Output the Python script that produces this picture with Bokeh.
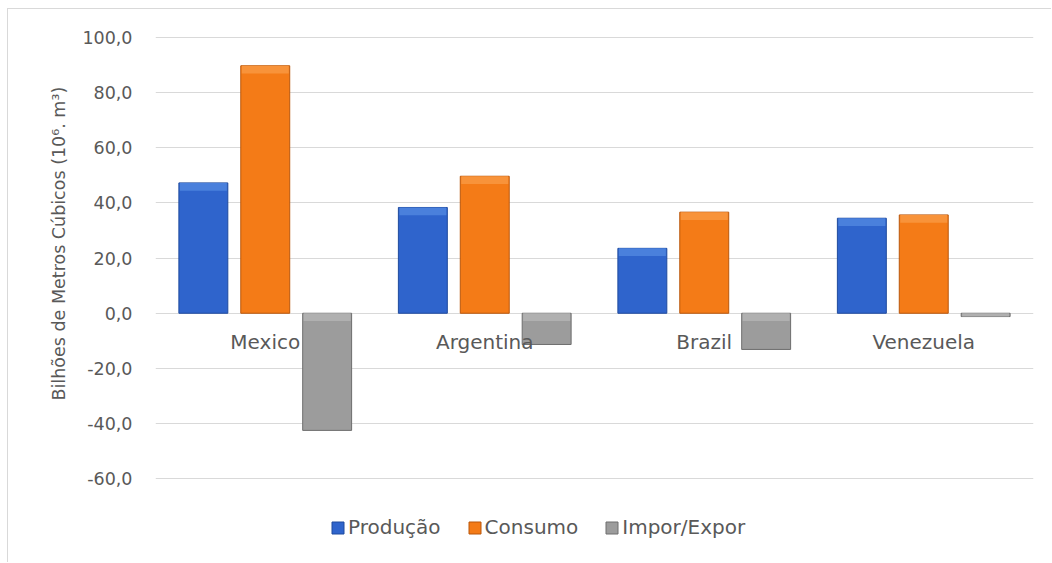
from bokeh.plotting import figure
from bokeh.models import (ColumnDataSource, FactorRange, Legend, LegendItem,
                          FixedTicker, CustomJSTickFormatter, Title, Range1d)
from bokeh.transform import dodge
from bokeh.core.properties import value
from bokeh.embed import file_html
from bokeh.resources import INLINE

# ---- data ----
countries = ["Mexico", "Argentina", "Brazil", "Venezuela"]
producao = [47.2, 38.3, 23.5, 34.4]
consumo = [89.6, 49.6, 36.6, 35.6]
impor_expor = [-42.4, -11.3, -13.1, -1.2]
series_names = ["Produção", "Consumo", "Impor/Expor"]
y_ticks = [-60, -40, -20, 0, 20, 40, 60, 80, 100]
y_title = "Bilhões de Metros Cúbicos (10⁶. m³)"

FONT = "DejaVu Sans"
TXT = "#595959"

series = [producao, consumo, impor_expor]
bevel = 2.8
data = dict(cat=countries, zero=[0] * len(countries))
for i, vals in enumerate(series):
    data[f"v{i}"] = vals
    data[f"bt{i}"] = [v if v > 0 else 0 for v in vals]
    data[f"bb{i}"] = [max(v - bevel, 0) if v > 0 else max(v, -bevel) for v in vals]
src = ColumnDataSource(data)

# frame extends below the -60 gridline so the legend can sit inside it
p = figure(width=1044, height=554, x_range=FactorRange(*countries),
           y_range=Range1d(-87.7, 100.2), output_backend="svg",
           toolbar_location=None,
           min_border_left=147, min_border_top=27, min_border_right=19,
           min_border_bottom=8)
p.styles = {"margin-left": "7px", "margin-top": "8px",
            "border-left": "1px solid #d9d9d9", "border-top": "1px solid #d9d9d9"}
p.outline_line_color = None
p.background_fill_color = "white"
p.border_fill_color = "white"

bw = 0.223
offsets = [-0.282, 0.0, 0.282]
fills = ["#2F64CC", "#F47B17", "#9C9C9C"]
lights = ["#4A80DC", "#F8933A", "#B0B0B0"]
edges = ["#1F4A9E", "#B9560B", "#6E6E6E"]
renderers = []
for i, (off, fc, lc, ec) in enumerate(zip(offsets, fills, lights, edges)):
    r = p.vbar(x=dodge("cat", off, range=p.x_range), top=f"v{i}", bottom=0,
               width=bw, source=src, fill_color=fc, line_color=ec,
               line_width=1)
    p.vbar(x=dodge("cat", off, range=p.x_range), top=f"bt{i}", bottom=f"bb{i}",
           width=bw * 0.96, source=src, fill_color=lc, line_color=None)
    renderers.append(r)

# grid / axes
p.xgrid.grid_line_color = None
p.ygrid.grid_line_color = "#d9d9d9"
p.ygrid.grid_line_width = 1
p.yaxis.ticker = FixedTicker(ticks=y_ticks)
p.yaxis.formatter = CustomJSTickFormatter(code="return tick.toFixed(1).replace('.', ',');")
p.yaxis.axis_line_color = None
p.yaxis.major_tick_line_color = None
p.yaxis.minor_tick_line_color = None
p.yaxis.major_label_standoff = 17
p.yaxis.major_label_text_font = FONT
p.yaxis.major_label_text_font_size = "17.5px"
p.yaxis.major_label_text_color = TXT
p.xaxis.visible = False

# axis title as a left-side title, aligned to the plotted value range
p.add_layout(Title(text=y_title, align="left", offset=155, standoff=22,
                   text_font=FONT, text_font_size="17.5px",
                   text_font_style="normal", text_color=TXT), "left")

# category labels at the zero line
p.text(x="cat", y="zero", text="cat", source=src, text_font=value(FONT),
       text_font_size="20px", text_color=TXT, text_align="center",
       text_baseline="top", y_offset=17)

legend = Legend(items=[LegendItem(label=n, renderers=[r])
                       for n, r in zip(series_names, renderers)],
                orientation="horizontal", location=(175, 16), margin=0,
                glyph_width=15, glyph_height=15, label_standoff=3,
                spacing=26, padding=0, border_line_color=None,
                background_fill_alpha=0, label_text_font=FONT,
                label_text_font_size="20px", label_text_color=TXT)
p.add_layout(legend, "center")

open("out.html", "w").write(file_html(p, INLINE))
